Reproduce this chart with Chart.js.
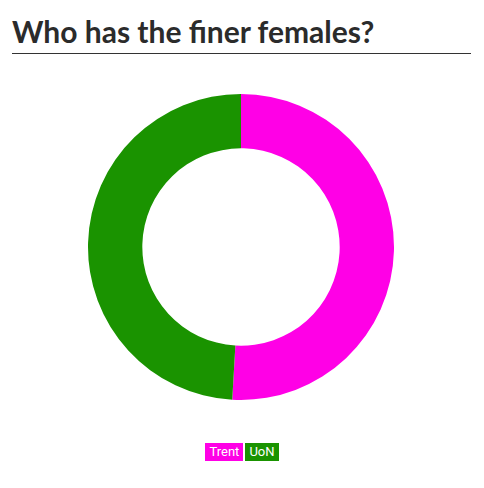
<!DOCTYPE html>
<html lang="en">
<head>
<meta charset="UTF-8">
<title>Who has the finer females?</title>
<script src="https://cdn.jsdelivr.net/npm/chart.js"></script>
<style>
    body { margin: 0; background: #fff; width: 484px; height: 488px; position: relative; overflow: hidden; }
    h1 {
        position: absolute; left: 12px; top: 14px; width: 459px; margin: 0;
        font-family: Lato, "DejaVu Sans", sans-serif; font-weight: bold; font-size: 30px;
        color: #2b2b2b; padding-bottom: 5px; border-bottom: 1px solid #333; line-height: 34px;
    }
    .chart-box { position: absolute; left: 86px; top: 92px; width: 310px; height: 310px; }
    .legend { position: absolute; left: 0; top: 443px; width: 484px; text-align: center; font-size: 0; }
    .legend span {
        display: inline-block; color: #fff; font-family: "Liberation Sans Narrow", Roboto, sans-serif;
        font-size: 13px; line-height: 18px; padding: 0 4px; margin: 0 1px;
    }
</style>
</head>
<body>

<h1>Who has the finer females?</h1>

<div class="chart-box">
    <canvas id="donut"></canvas>
</div>

<div class="legend" id="legend"></div>

<script>
    // données
    var labels = ['Trent', 'UoN'];
    var values = [28, 27];
    var colors = ['#ff00e6', '#1a9300'];

    var ctx = document.getElementById('donut').getContext('2d');
    var chart = new Chart(ctx, {
        type: 'doughnut',
        data: {
            labels: labels,
            datasets: [{
                data: values,
                backgroundColor: colors,
                borderWidth: 0
            }]
        },
        options: {
            responsive: true,
            maintainAspectRatio: false,
            animation: false,
            cutout: '64.5%',
            layout: { padding: 2 },
            plugins: {
                legend: { display: false },
                tooltip: { enabled: false }
            }
        }
    });

    // légende HTML
    var legend = document.getElementById('legend');
    labels.forEach(function (l, i) {
        var s = document.createElement('span');
        s.textContent = l;
        s.style.background = colors[i];
        legend.appendChild(s);
    });
</script>

</body>
</html>
